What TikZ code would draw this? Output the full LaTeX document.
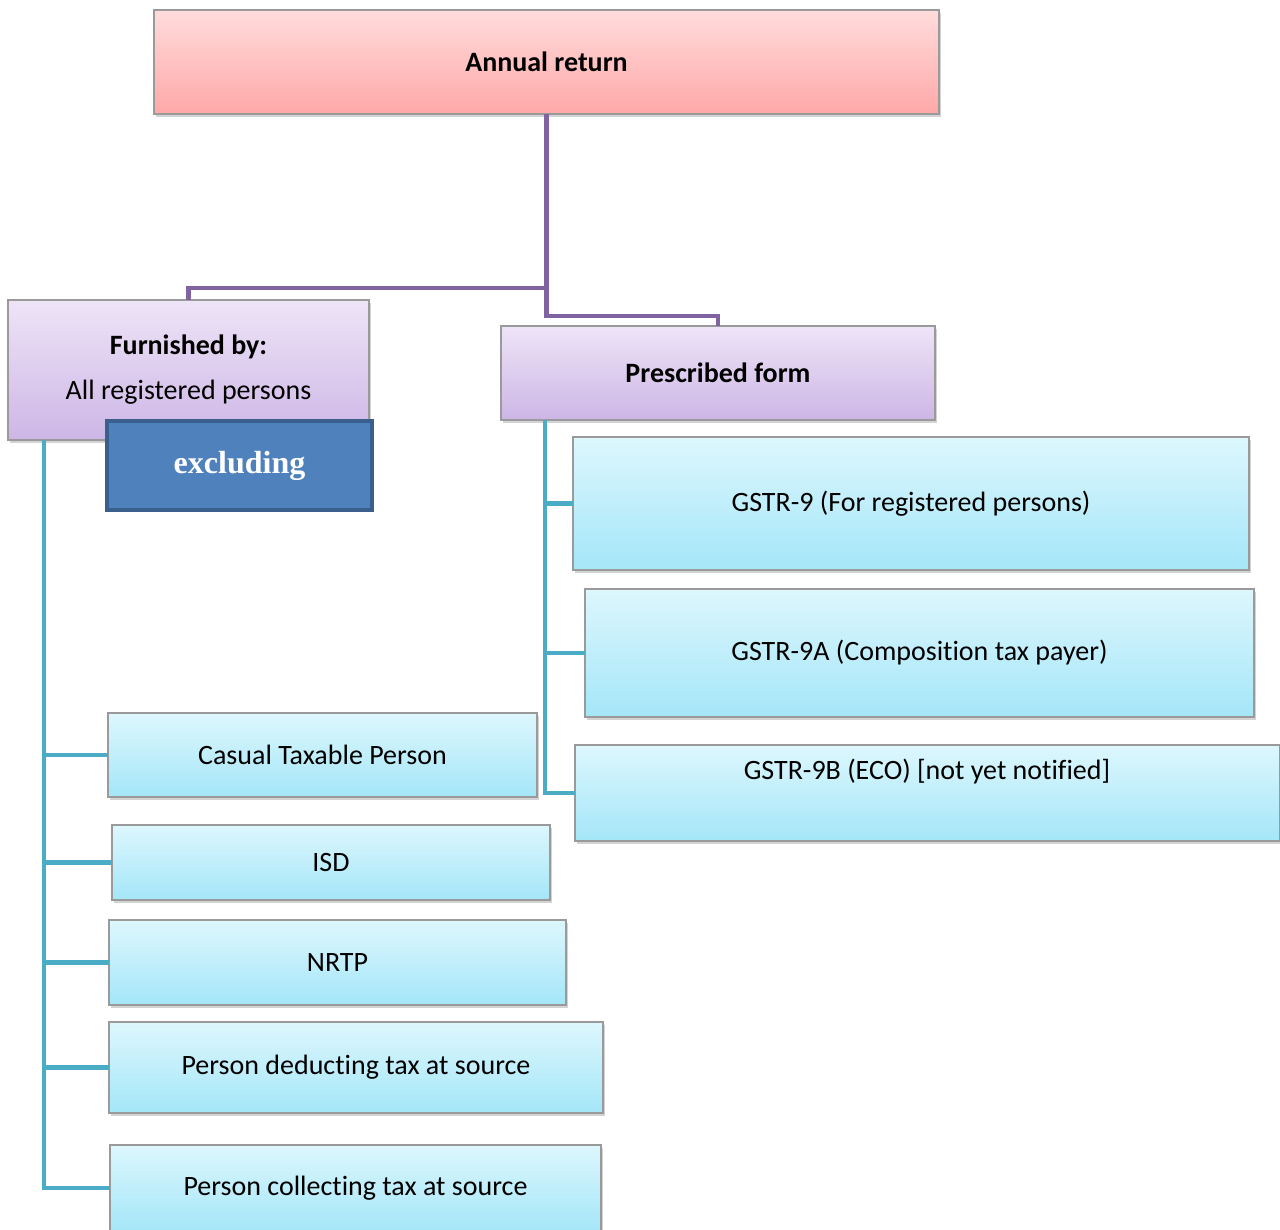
\documentclass[tikz,border=0pt]{standalone}
\usepackage{fontspec}
\setmainfont[Ligatures=NoCommon]{Carlito}
\newfontfamily\exclfont{Liberation Serif}
\usetikzlibrary{shadows,calc}
\definecolor{pinkT}{HTML}{FFDCDC}
\definecolor{pinkB}{HTML}{FFA8A8}
\definecolor{lavT}{HTML}{EEE4F7}
\definecolor{lavB}{HTML}{CDB6E6}
\definecolor{cyanT}{HTML}{DDF7FD}
\definecolor{cyanB}{HTML}{A4E6F8}
\definecolor{exclFill}{HTML}{4F81BD}
\definecolor{exclLine}{HTML}{3A5F8C}
\definecolor{purpleLine}{HTML}{8064A2}
\definecolor{tealLine}{HTML}{4BACC6}
\definecolor{boxLine}{HTML}{9A9A9A}
\tikzset{
  basebox/.style={draw=boxLine, line width=1.2pt, inner sep=0pt, outer sep=0pt,
    drop shadow={shadow xshift=2pt, shadow yshift=-3pt, opacity=0.35, fill=gray},
    font=\fontsize{28}{34}\selectfont, align=center},
  pinkbox/.style={basebox, top color=pinkT, bottom color=pinkB},
  lavbox/.style={basebox, top color=lavT, bottom color=lavB},
  cyanbox/.style={basebox, top color=cyanT, bottom color=cyanB},
  exclbox/.style={draw=exclLine, line width=4pt, fill=exclFill, inner sep=0pt,
    text=white, font=\exclfont\bfseries\fontsize{32}{38}\selectfont},
  purplecon/.style={draw=purpleLine, line width=4.5pt},
  tealcon/.style={draw=tealLine, line width=4.5pt},
  plaintext/.style={font=\fontsize{28}{34}\selectfont, inner sep=0pt}
}
\begin{document}
\begin{tikzpicture}[x=1pt,y=-1pt]
\useasboundingbox (0,0) rectangle (1280,1230);

\coordinate (jA) at (546,288);
\coordinate (jB) at (546,316);

% boxes
\node[pinkbox, minimum width=785, minimum height=104] (ar) at (546.5,62) {\bfseries Annual return};
\node[lavbox, minimum width=361, minimum height=140] (fb) at (188.5,370) {\bfseries Furnished by:\\[11pt] All registered persons};
\node[lavbox, minimum width=434, minimum height=94] (pf) at (718,373) {\bfseries Prescribed form};

\draw[purplecon] (ar.south) -- (ar.south |- jB) -| (pf.north);
\draw[purplecon] (ar.south |- jA) -| (fb.north);

\node[exclbox, minimum width=265, minimum height=89] (ex) at (239.5,465.5) {excluding};

\node[cyanbox, minimum width=676, minimum height=133] (g9) at (911,503.5) {GSTR-9 (For registered persons)};
\node[cyanbox, minimum width=669, minimum height=128] (g9a) at (919.5,653) {GSTR-9A (Composition tax payer)};
\node[cyanbox, minimum width=705, minimum height=96] (g9b) at (927.5,793) {};
\node[plaintext] (g9bt) at (927,772) {GSTR-9B (ECO) [not yet notified]};

\node[cyanbox, minimum width=429, minimum height=84] (ct) at (322.5,755) {Casual Taxable Person};
\node[cyanbox, minimum width=438, minimum height=75] (isd) at (331,862.5) {ISD};
\node[cyanbox, minimum width=457, minimum height=85] (nrtp) at (337.5,962.5) {NRTP};
\node[cyanbox, minimum width=494, minimum height=91] (pd) at (356,1067.5) {Person deducting tax at source};
\node[cyanbox, minimum width=491, minimum height=86] (pc) at (355.5,1188) {Person collecting tax at source};

% teal connectors left
\coordinate (lx) at (44,0);
\draw[tealcon] (lx |- fb.south) |- (pc.west);
\draw[tealcon] (lx |- ct.west) -- (ct.west);
\draw[tealcon] (lx |- isd.west) -- (isd.west);
\draw[tealcon] (lx |- nrtp.west) -- (nrtp.west);
\draw[tealcon] (lx |- pd.west) -- (pd.west);

% teal connectors right
\coordinate (rx) at (545,0);
\draw[tealcon] (rx |- pf.south) |- (g9b.west);
\draw[tealcon] (rx |- g9.west) -- (g9.west);
\draw[tealcon] (rx |- g9a.west) -- (g9a.west);
\end{tikzpicture}
\end{document}
